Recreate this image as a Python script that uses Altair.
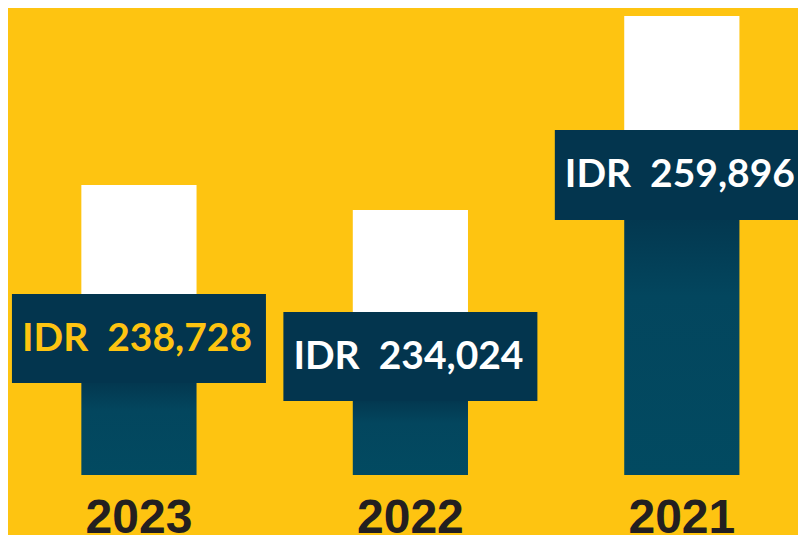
import altair as alt
import pandas as pd

# Data
years = ["2023", "2022", "2021"]
amounts = [238728, 234024, 259896]
# decorative bar geometry (units above the baseline, as drawn in the infographic)
bar_top = [290, 265, 459]
box_top = [181, 163, 345]
box_bottom = [92, 74, 255]
label_colors = ["#FEC411", "#FFFFFF", "#FFFFFF"]

df = pd.DataFrame({
    "year": years,
    "amount": amounts,
    "top": bar_top,
    "box_top": box_top,
    "box_bottom": box_bottom,
    "label_color": label_colors,
})
df["label"] = df["amount"].map(lambda v: "IDR\u00a0\u00a0" + f"{v:,}")
df["box_mid"] = (df["box_top"] + df["box_bottom"]) / 2

BG = "#FEC411"
NAVY = "#03354E"

xscale = alt.Scale(paddingInner=0.5756, paddingOuter=0.243, align=0.556, round=False)
x = alt.X(
    "year:N", sort=years, scale=xscale,
    axis=alt.Axis(title=None, domain=False, ticks=False, labelAngle=0,
                  labelFont="Liberation Sans", labelFontSize=48,
                  labelFontWeight="bold", labelColor="#231F20",
                  labelBaseline="alphabetic", labelPadding=57),
)
yscale = alt.Scale(domain=[0, 467], nice=False, zero=True)

base = alt.Chart(df).encode(x=x)

white = base.mark_bar(color="white").encode(
    y=alt.Y("top:Q", scale=yscale, axis=None), y2="box_top:Q"
)

gradient = alt.LinearGradient(
    gradient="linear",
    stops=[
        alt.GradientStop(color="#033850", offset=0),
        alt.GradientStop(color="#03465E", offset=0.3),
        alt.GradientStop(color="#024A61", offset=1),
    ],
    x1=0, x2=0, y1=0, y2=1,
)
teal = base.mark_bar(color=gradient).encode(
    y=alt.Y("box_bottom:Q", scale=yscale, axis=None, stack=None),
    y2=alt.datum(0),
)

box = base.mark_bar(width=254, color=NAVY).encode(
    y=alt.Y("box_top:Q", scale=yscale, axis=None), y2="box_bottom:Q"
)

text = base.mark_text(
    align="left", dx=-117, baseline="middle",
    font="Lato", fontSize=39, fontWeight="bold",
).encode(
    y=alt.Y("box_mid:Q", scale=yscale, axis=None),
    text="label:N",
    color=alt.Color("label_color:N", scale=None),
)

chart = alt.layer(white, teal, box, text).properties(
    width=790, height=467,
    autosize=alt.AutoSizeParams(type="none"),
    padding={"left": 0, "top": 0, "right": 0, "bottom": 60},
    background=BG,
).configure_view(stroke=None)

chart.save("out.html", embed_options={"renderer": "svg", "actions": False})
